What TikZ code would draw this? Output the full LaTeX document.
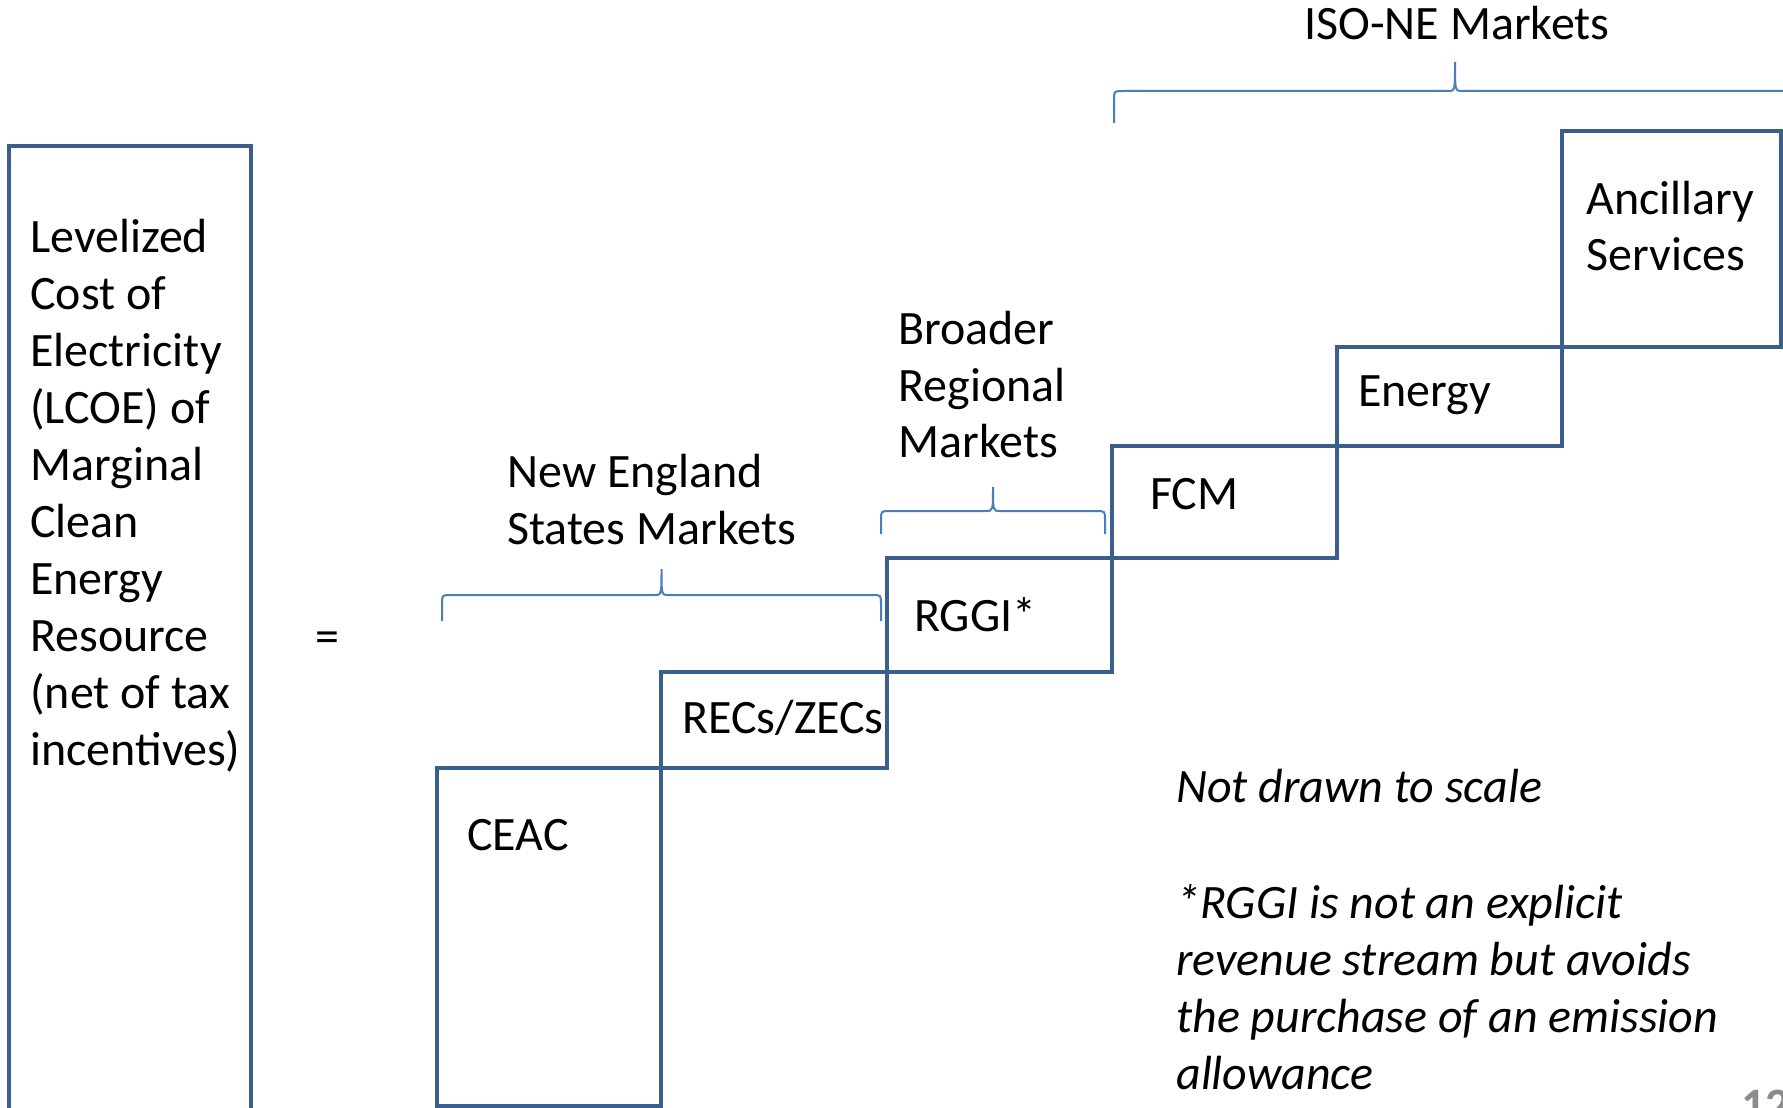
\documentclass[tikz,border=0pt]{standalone}
\usepackage{fontspec}
\setmainfont{Carlito}
\usetikzlibrary{positioning}
\newdimen\px \px=0.02cm
\definecolor{boxblue}{HTML}{3A5F8D}
\definecolor{braceblue}{HTML}{4A7EBB}
\definecolor{pagegray}{HTML}{8C8C8C}
\tikzstyle{stepbox}=[draw=boxblue, line width=4\px, rectangle, inner sep=0pt, outer sep=0pt, anchor=south west]
\tikzstyle{lbl}=[inner sep=0pt, anchor=base west, align=left, font=\fontsize{27.3pt}{32.4pt}\selectfont]
\tikzstyle{bracel}=[draw=braceblue, line width=2\px]
% curly brace: left x, right x, tip y, bar y, end y
\newcommand{\mktbrace}[5]{%
  \draw[bracel] (#1,#5) -- (#1,#4+9) .. controls (#1,#4) .. (#1+9,#4)
    -- ({(#1+#2)/2-7},#4) .. controls ({(#1+#2)/2},#4) .. ({(#1+#2)/2},#3)
    .. controls ({(#1+#2)/2},#4) .. ({(#1+#2)/2+7},#4)
    -- (#2-9,#4) .. controls (#2,#4) .. (#2,#4+9) -- (#2,#5);}

\begin{document}
\begin{tikzpicture}[x=1\px, y=-1\px]
\clip (0,0) rectangle (1783,1108);
\fill[white] (0,0) rectangle (1783,1108);

% left side (base anchor = last line)
\node[stepbox, anchor=north west, minimum width=242\px, minimum height=990\px] (lcoe) at (9,146) {};
\node[lbl] (lcoetxt) at ([shift={(21,619)}]lcoe.north west)
  {Levelized\\Cost of\\Electricity\\(LCOE) of\\Marginal\\Clean\\Energy\\Resource\\(net of tax\\incentives)};
\node[lbl, anchor=center] (eq) at (327,642) {=};

% revenue steps
\node[stepbox, minimum width=224\px, minimum height=338\px] (ceac) at (437,1106) {};
\node[stepbox, minimum width=226\px, minimum height=96\px] (recs) at (ceac.north east) {};
\node[stepbox, minimum width=225\px, minimum height=114\px] (rggi) at (recs.north east) {};
\node[stepbox, minimum width=225\px, minimum height=112\px] (fcm) at (rggi.north east) {};
\node[stepbox, minimum width=225\px, minimum height=99\px] (energy) at (fcm.north east) {};
\node[stepbox, minimum width=219\px, minimum height=216\px] (anc) at (energy.north east) {};

\node[lbl] (ceactxt) at ([shift={(30,82)}]ceac.north west) {CEAC};
\node[lbl] (recstxt) at ([shift={(21,61)}]recs.north west) {RECs/ZECs};
\node[lbl] (rggitxt) at ([shift={(27,73)}]rggi.north west) {RGGI*};
\node[lbl] (fcmtxt) at ([shift={(38,63)}]fcm.north west) {FCM};
\node[lbl] (energytxt) at ([shift={(21,59)}]energy.north west) {Energy};
\node[lbl] (anctxt) at ([shift={(24,140)}]anc.north west) {Ancillary\\Services};

% market groups
\mktbrace{442}{881}{569}{595}{621}
\mktbrace{881}{1105}{487}{511}{534}
\mktbrace{1114}{1796}{62}{91}{123}
\node[lbl] (netxt) at (507,544) {New England\\States Markets};
\node[lbl] (brtxt) at (898,458) {Broader\\Regional\\Markets};
\node[lbl] (isotxt) at (1304,40) {ISO-NE Markets};

% notes
\node[lbl, font=\fontsize{27.3pt}{32.4pt}\selectfont\itshape] (scalenote) at (1176,802) {Not drawn to scale};
\node[lbl, font=\fontsize{27.3pt}{32.4pt}\selectfont\itshape] (rgginote) at (1176,1089)
  {{*}RGGI is not an explicit\\revenue stream but avoids\\the purchase of an emission\\allowance};
\node[lbl, font=\fontsize{27.3pt}{32.4pt}\selectfont\bfseries, text=pagegray] (pagenum) at (1741,1121) {12};
\end{tikzpicture}
\end{document}
